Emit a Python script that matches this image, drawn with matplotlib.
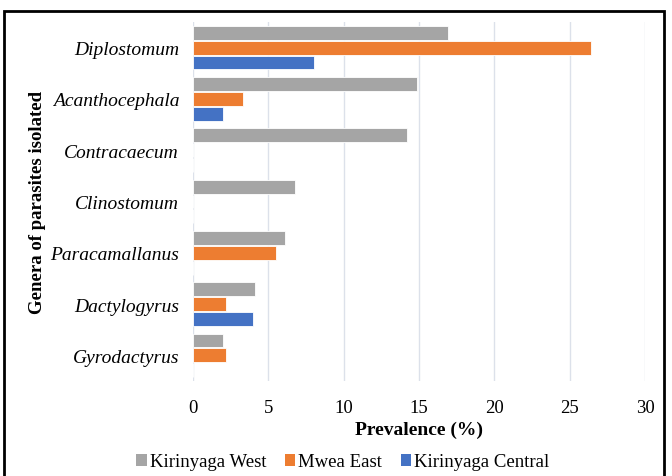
import numpy as np
import matplotlib
matplotlib.use("Agg")
from matplotlib import pyplot as plt
from matplotlib.patches import Rectangle

genera = ["Diplostomum", "Acanthocephala", "Contracaecum", "Clinostomum",
          "Paracamallanus", "Dactylogyrus", "Gyrodactyrus"]
series_names = ["Kirinyaga West", "Mwea East", "Kirinyaga Central"]
kirinyaga_west = [16.9, 14.9, 14.2, 6.8, 6.1, 4.1, 2.0]
mwea_east = [26.4, 3.3, 0, 0, 5.5, 2.2, 2.2]
kirinyaga_central = [8.0, 2.0, 0, 0, 0, 4.0, 0]
colors = ["#A5A5A5", "#ED7D31", "#4472C4"]
x_ticks = [0, 5, 10, 15, 20, 25, 30]

plt.rcParams['font.family'] = ['Liberation Serif', 'DejaVu Serif']

fig = plt.figure(figsize=(6.72, 4.77), dpi=100)
ax = fig.add_axes([193 / 672, 1 - 382 / 477, 452 / 672, 359 / 477])

y = np.arange(len(genera))
bar_h = 0.27
step = 0.29
all_series = [kirinyaga_west, mwea_east, kirinyaga_central]
for i, (vals, name, col) in enumerate(zip(all_series, series_names, colors)):
    ax.barh(y + (i - 1) * step, vals, height=bar_h, color=col, label=name,
            edgecolor="white", linewidth=0.6, zorder=3)

ax.set_ylim(len(genera) - 0.5, -0.5)
ax.set_xlim(0, 30)
ax.set_xticks(x_ticks)
ax.set_yticks(y)
ax.set_yticklabels(genera, fontstyle="italic", fontsize=14)
ax.tick_params(axis="x", labelsize=13.5, length=0, pad=13)
ax.tick_params(axis="y", length=0, pad=10)
ax.grid(axis="x", color="#DCE1EA", linewidth=1, zorder=0)
for s in ax.spines.values():
    s.set_visible(False)

ax.set_xlabel("Prevalence (%)", fontsize=14, fontweight="bold", labelpad=3)
ax.set_ylabel("Genera of parasites isolated", fontsize=13.5, fontweight="bold")
ax.yaxis.set_label_coords((46 - 193) / 452, 0.5)

leg = fig.legend(loc="center", bbox_to_anchor=(0.51, 1 - 463 / 477), ncol=3,
                 frameon=False, fontsize=13.5, handlelength=0.55, handleheight=0.55,
                 handletextpad=0.15, columnspacing=1.0)
for h in leg.legend_handles:
    h.set_edgecolor("none")

# black frame around the chart
fig.patches.append(Rectangle((4 / 672, -0.05), 660 / 672, 1.05 - 12 / 477,
                             transform=fig.transFigure, fill=False,
                             edgecolor="black", linewidth=2))

fig.savefig("out.png", dpi=100)
